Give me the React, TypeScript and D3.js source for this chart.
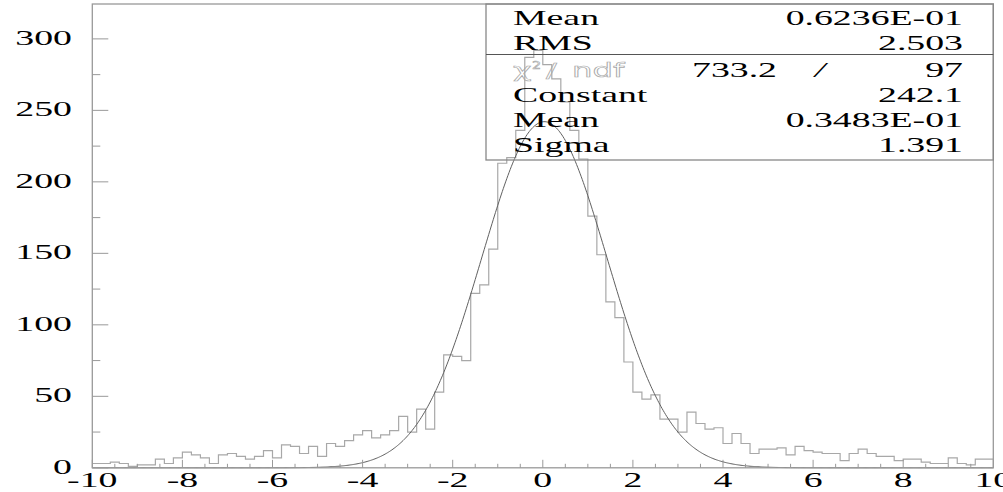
import React from "react";
import * as d3 from "d3";

const binCounts: number[] = [
  3, 3, 4, 3, 1, 2, 2, 6, 3, 7,
  11, 9, 7, 3, 9, 10, 8, 6, 8, 12,
  7, 16, 15, 10, 15, 8, 17, 15, 19, 23,
  26, 21, 23, 26, 36, 25, 41, 27, 53, 79,
  78, 75, 122, 128, 153, 213, 217, 236, 287, 292,
  282, 272, 256, 236, 216, 176, 149, 116, 105, 74,
  53, 48, 51, 34, 34, 25, 39, 31, 27, 28,
  17, 24, 17, 10, 13, 13, 14, 9, 15, 12,
  11, 10, 10, 5, 10, 13, 10, 8, 8, 5,
  6, 6, 4, 3, 3, 7, 3, 2, 6, 6,
];
const xRange: [number, number] = [-10, 10];
const yMaxValue = 324.4;
const xMajorTicks = [-10, -8, -6, -4, -2, 0, 2, 4, 6, 8, 10];
const yMajorTicks = [0, 50, 100, 150, 200, 250, 300];
const fitConstant = 242.1;
const fitMean = 0.03483;
const fitSigma = 1.391;
const statsTop = [
  { label: "Mean", value: "0.6236E-01" },
  { label: "RMS", value: "2.503" },
];
const statsFit = [
  { label: "Constant", value: "242.1" },
  { label: "Mean", value: "0.3483E-01" },
  { label: "Sigma", value: "1.391" },
];
const chi2Value = "733.2";
const ndfValue = "97";

const W = 1003;
const H = 492;
const L = 92.3, R = 993.3, T = 4, B = 467.8;
const SX = 1.8;
const FONT = "'Liberation Serif', 'Times New Roman', serif";
const SANS = "'DejaVu Sans', sans-serif";

export default function App() {
  const x = d3.scaleLinear().domain(xRange).range([L, R]);
  const y = d3.scaleLinear().domain([0, yMaxValue]).range([B, T]);
  const n = binCounts.length;
  const bw = (xRange[1] - xRange[0]) / n;
  const pts: [number, number][] = binCounts.map((c, i) => [xRange[0] + i * bw, c]);
  pts.push([xRange[1], binCounts[n - 1]]);
  const histPath = d3
    .line<[number, number]>()
    .x((d) => x(d[0]))
    .y((d) => y(d[1]))
    .curve(d3.curveStepAfter)(pts) as string;

  const fitPts: [number, number][] = d3.range(0, 801).map((k) => {
    const xv = xRange[0] + (k * (xRange[1] - xRange[0])) / 800;
    const z = (xv - fitMean) / fitSigma;
    return [xv, fitConstant * Math.exp(-0.5 * z * z)];
  });
  const fitPath = d3
    .line<[number, number]>()
    .x((d) => x(d[0]))
    .y((d) => y(d[1]))(fitPts) as string;

  const yMinor = d3.range(25, yMaxValue, 50);
  const xMinor = d3.range(xRange[0], xRange[1] + 0.001, 0.5).filter(
    (v) => Math.abs(v / 2 - Math.round(v / 2)) > 1e-6
  );

  const boxL = 486, boxR = R, boxT = T, boxB = 160, divY = 54.5;
  const rowBase = [25, 50, 77, 102, 127, 152];
  const labelX = 513, valueX = 963;

  const stext = (
    key: string,
    tx: number,
    ty: number,
    s: string,
    anchor: "start" | "end" | "middle",
    extra: any = {}
  ) => (
    <g key={key} transform={`translate(${tx},${ty}) scale(${SX},1)`}>
      <text
        x={0}
        y={0}
        textAnchor={anchor}
        fontFamily={FONT}
        fontSize={21}
        fill="#000"
        {...extra}
      >
        {s}
      </text>
    </g>
  );

  const sans = (key: string, tx: number, ty: number, s: string, size: number, sx: number) => (
    <g key={key} transform={`translate(${tx},${ty}) scale(${sx},1)`}>
      <text x={0} y={0} fontFamily={SANS} fontSize={size} fill="none" stroke="#a8a8a8" strokeWidth={0.6}>
        {s}
      </text>
    </g>
  );

  return (
    <svg
      width={W}
      height={H}
      style={{ position: "absolute", left: 0, top: 0, display: "block", background: "#fff" }}
    >
      <rect x={0} y={0} width={W} height={H} fill="#fff" />
      {/* histogram */}
      <path d={histPath} fill="none" stroke="#a8a8a8" strokeWidth={1.2} />
      {/* fit */}
      <path d={fitPath} fill="none" stroke="#606060" strokeWidth={1} />
      {/* frame */}
      <rect x={L} y={T} width={R - L} height={B - T} fill="none" stroke="#999" strokeWidth={1.3} />
      {/* y ticks */}
      {yMajorTicks.map((v) => (
        <line key={"ym" + v} x1={L} x2={L + 16} y1={y(v)} y2={y(v)} stroke="#999" strokeWidth={1} />
      ))}
      {yMinor.map((v) => (
        <line key={"yn" + v} x1={L} x2={L + 8} y1={y(v)} y2={y(v)} stroke="#999" strokeWidth={1} />
      ))}
      {/* x ticks */}
      {xMajorTicks.map((v) => (
        <line key={"xm" + v} x1={x(v)} x2={x(v)} y1={B} y2={B - 8} stroke="#999" strokeWidth={1} />
      ))}
      {xMinor.map((v) => (
        <line key={"xn" + v} x1={x(v)} x2={x(v)} y1={B} y2={B - 4} stroke="#999" strokeWidth={1} />
      ))}
      {/* y labels */}
      {yMajorTicks.map((v) => stext("yl" + v, 72, y(v) + 6, String(v), "end"))}
      {/* x labels */}
      {xMajorTicks.map((v) => stext("xl" + v, x(v), 487, String(v), "middle"))}
      {/* stats box */}
      <rect x={boxL} y={boxT} width={boxR - boxL} height={boxB - boxT} fill="none" stroke="#888" strokeWidth={1.3} />
      <line x1={boxL} x2={boxR} y1={divY} y2={divY} stroke="#555" strokeWidth={1.2} />
      {statsTop.map((r, i) => (
        <g key={"st" + i}>
          {stext("stl" + i, labelX, rowBase[i], r.label, "start")}
          {stext("stv" + i, valueX, rowBase[i], r.value, "end")}
        </g>
      ))}
      {sans("chi", 513, rowBase[2], "χ", 20, 1.6)}
      {sans("chi2", 532, rowBase[2] - 8, "2", 11, 1.3)}
      {sans("chisl", 546, rowBase[2], "/", 20, 1.6)}
      {sans("chindf", 572, rowBase[2], "ndf", 19, 1.7)}
      {stext("chiv", 777, rowBase[2], chi2Value, "end")}
      {stext("chis", 820, rowBase[2], "/", "middle", { fontStyle: "italic" })}
      {stext("ndfv", valueX, rowBase[2], ndfValue, "end")}
      {statsFit.map((r, i) => (
        <g key={"sf" + i}>
          {stext("sfl" + i, labelX, rowBase[3 + i], r.label, "start")}
          {stext("sfv" + i, valueX, rowBase[3 + i], r.value, "end")}
        </g>
      ))}
    </svg>
  );
}
